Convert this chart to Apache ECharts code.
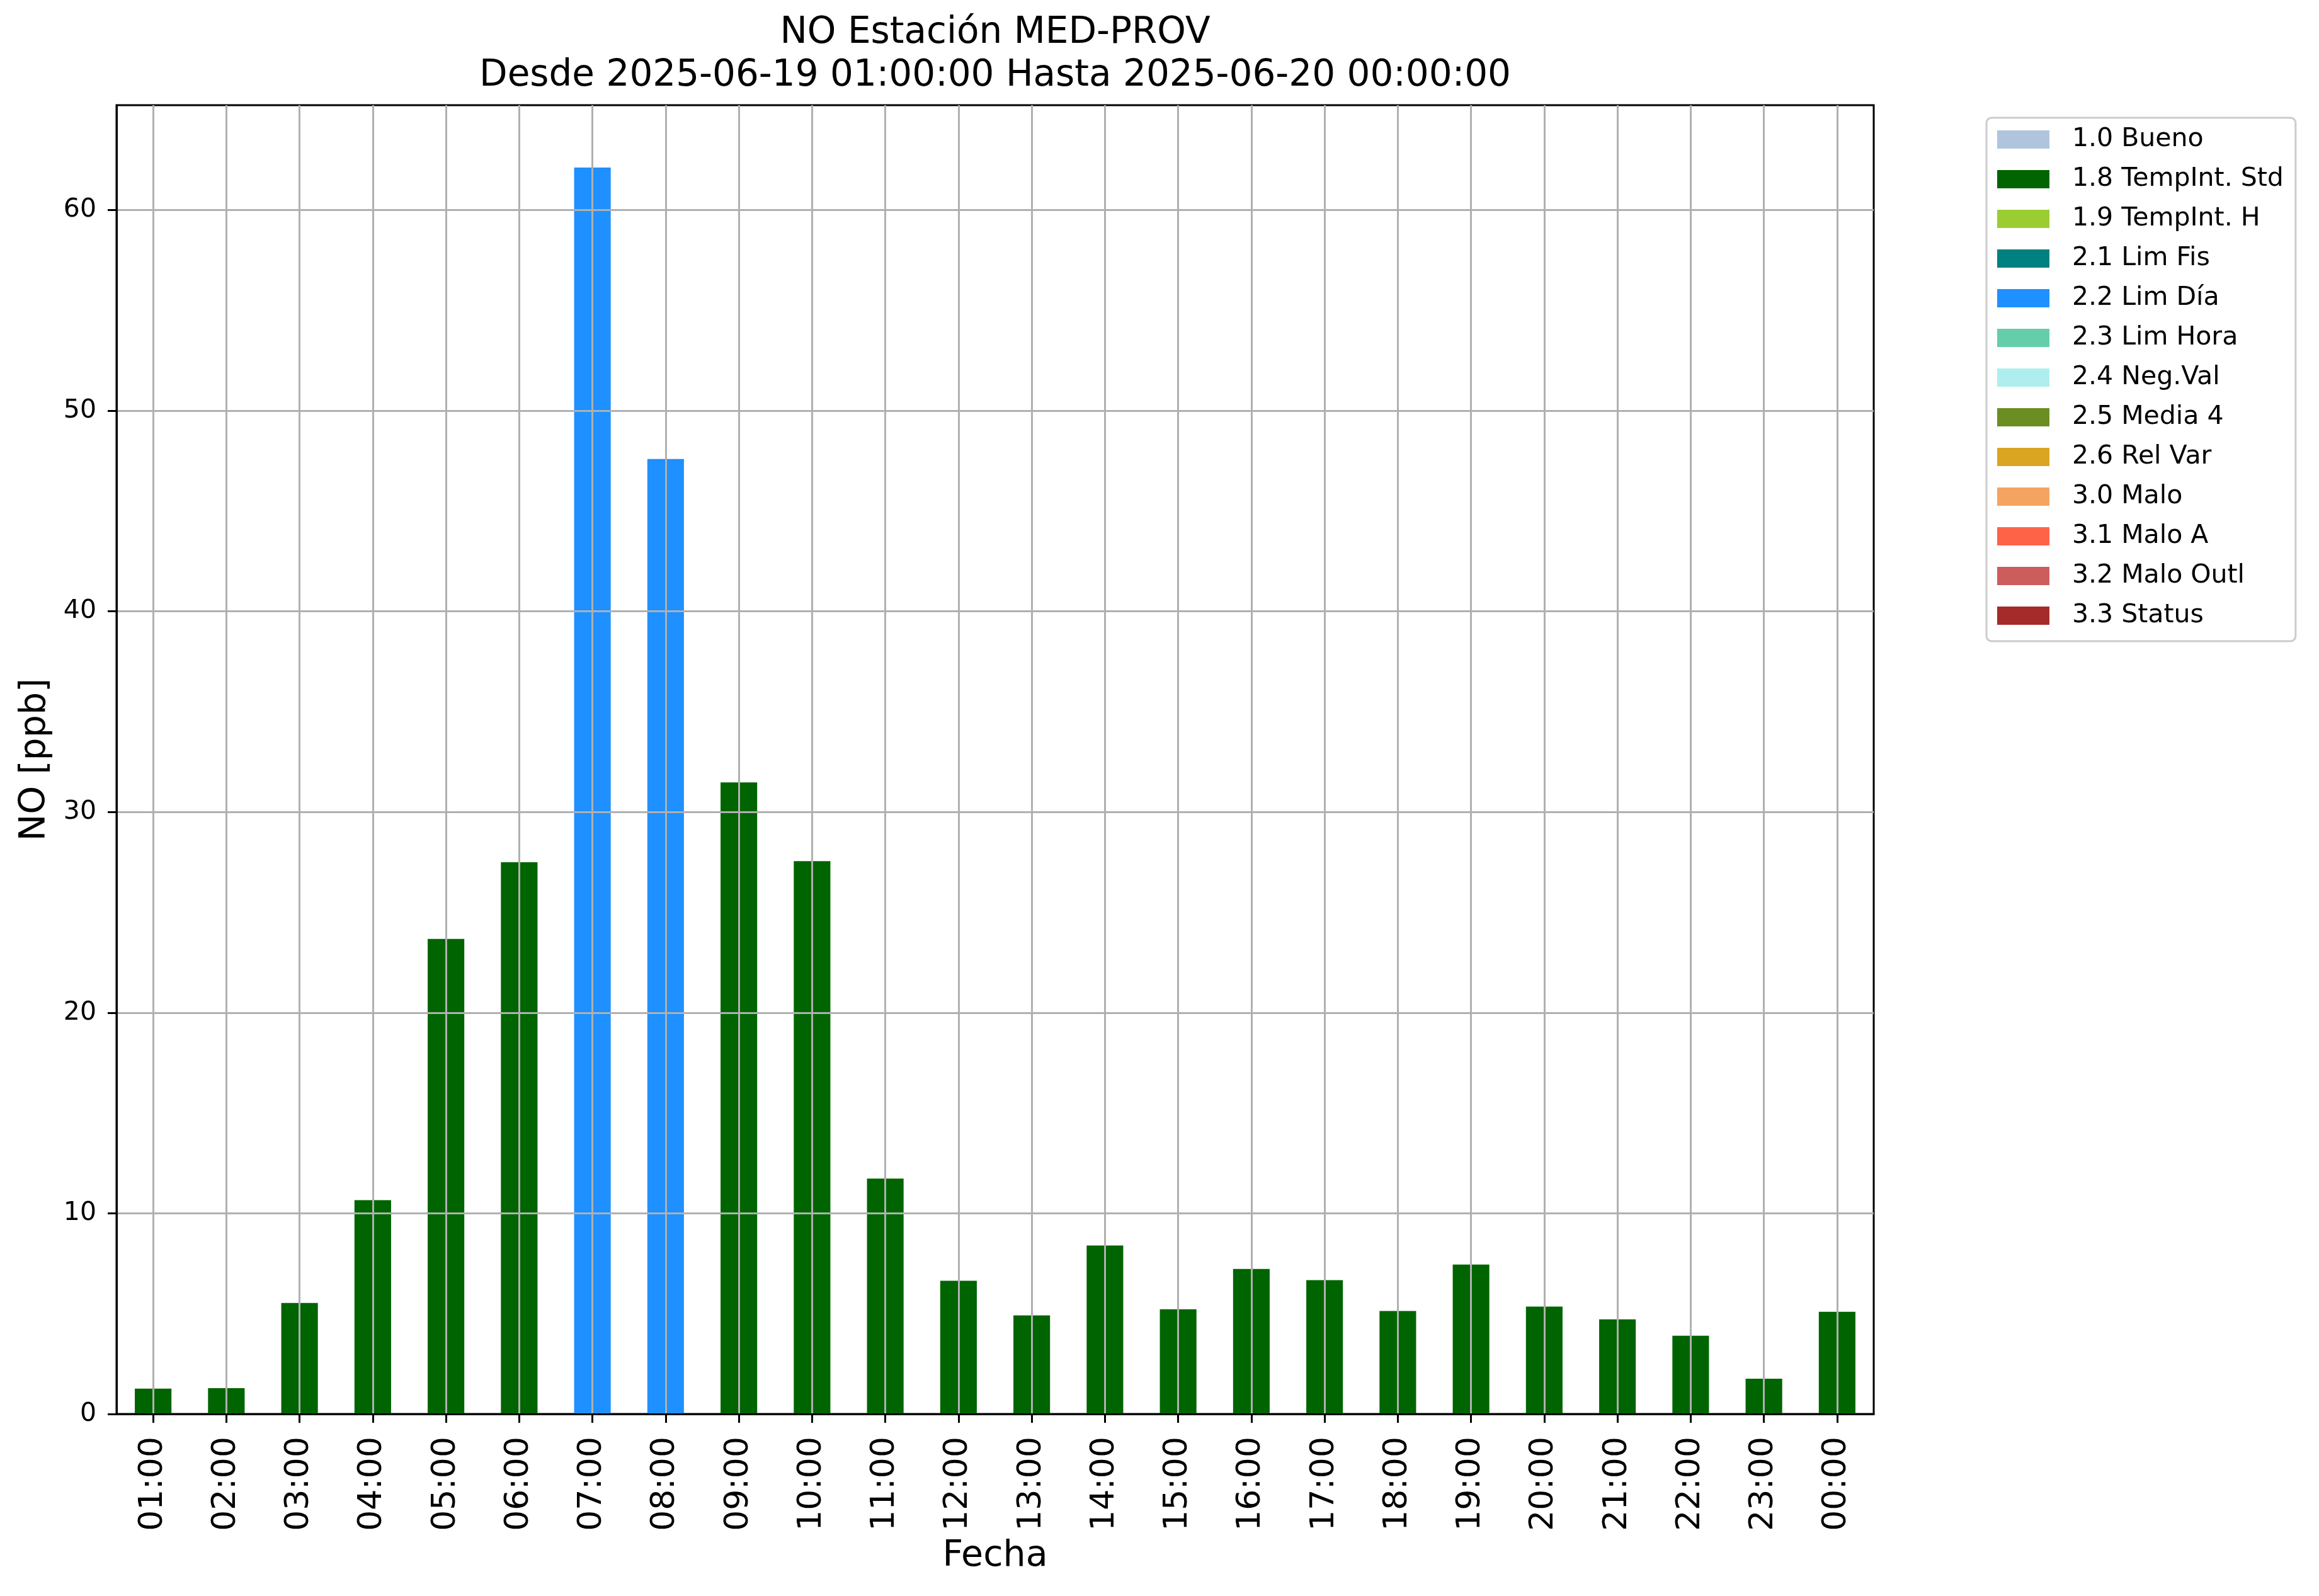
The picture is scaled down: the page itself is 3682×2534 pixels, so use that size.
<!DOCTYPE html>
<html>
<head>
<meta charset="utf-8">
<script src="https://cdn.jsdelivr.net/npm/echarts@6/dist/echarts.min.js"></script>
<style>
html, body { margin: 0; padding: 0; background: #ffffff; }
#chart { width: 3682px; height: 2534px; }
</style>
</head>
<body>
<div id="chart"></div>
<script>
const hours = ['01:00','02:00','03:00','04:00','05:00','06:00','07:00','08:00','09:00','10:00','11:00','12:00',
               '13:00','14:00','15:00','16:00','17:00','18:00','19:00','20:00','21:00','22:00','23:00','00:00'];
const noValues = [1.26, 1.29, 5.53, 10.66, 23.68, 27.5, 62.12, 47.6, 31.48, 27.55, 11.73, 6.64,
                  4.91, 8.40, 5.22, 7.23, 6.67, 5.13, 7.45, 5.35, 4.72, 3.90, 1.76, 5.09];
const hourFlags = ['1.8 TempInt. Std','1.8 TempInt. Std','1.8 TempInt. Std','1.8 TempInt. Std','1.8 TempInt. Std','1.8 TempInt. Std',
                   '2.2 Lim Día','2.2 Lim Día','1.8 TempInt. Std','1.8 TempInt. Std','1.8 TempInt. Std','1.8 TempInt. Std',
                   '1.8 TempInt. Std','1.8 TempInt. Std','1.8 TempInt. Std','1.8 TempInt. Std','1.8 TempInt. Std','1.8 TempInt. Std',
                   '1.8 TempInt. Std','1.8 TempInt. Std','1.8 TempInt. Std','1.8 TempInt. Std','1.8 TempInt. Std','1.8 TempInt. Std'];
const flagNames = ['1.0 Bueno','1.8 TempInt. Std','1.9 TempInt. H','2.1 Lim Fis','2.2 Lim Día','2.3 Lim Hora',
                   '2.4 Neg.Val','2.5 Media 4','2.6 Rel Var','3.0 Malo','3.1 Malo A','3.2 Malo Outl','3.3 Status'];
const flagColors = ['#B0C4DE','#006400','#9ACD32','#008080','#1E90FF','#66CDAA',
                    '#AFEEEE','#6B8E23','#DAA520','#F4A460','#FF6347','#CD5C5C','#A52A2A'];
const yTicks = [0, 10, 20, 30, 40, 50, 60];
const yMax = 65.23;
const titleText = 'NO Estación MED-PROV\nDesde 2025-06-19 01:00:00 Hasta 2025-06-20 00:00:00';

const FONT = 'DejaVu Sans';
const chart = echarts.init(document.getElementById('chart'), null, { renderer: 'canvas' });

const series = flagNames.map((name, i) => ({
  name: name,
  type: 'bar',
  stack: 'total',
  barWidth: '50%',
  itemStyle: { color: flagColors[i] },
  data: noValues.map((v, j) => hourFlags[j] === name ? v : null)
}));

chart.setOption({
  animation: false,
  backgroundColor: '#ffffff',
  title: {
    text: titleText,
    left: 1580,
    top: 19,
    padding: 0,
    textAlign: 'center',
    textStyle: { fontFamily: FONT, fontSize: 58, lineHeight: 68, fontWeight: 'normal', color: '#000' }
  },
  legend: {
    orient: 'vertical',
    left: 3154,
    top: 187,
    icon: 'rect',
    itemWidth: 83,
    itemHeight: 29,
    itemGap: 22,
    padding: [14, 19, 20, 17],
    backgroundColor: '#ffffff',
    borderColor: '#cccccc',
    borderWidth: 3,
    borderRadius: 8,
    selectedMode: false,
    textStyle: { fontFamily: FONT, fontSize: 41, lineHeight: 41, color: '#000', padding: [0, 0, 0, 31] },
    data: flagNames
  },
  grid: {
    left: 185,
    right: 707,
    top: 167,
    bottom: 289,
    show: true,
    borderColor: '#000',
    borderWidth: 3,
    backgroundColor: 'transparent'
  },
  xAxis: {
    type: 'category',
    data: hours,
    z: 5,
    name: 'Fecha',
    nameLocation: 'middle',
    nameGap: 198,
    nameTextStyle: { fontFamily: FONT, fontSize: 57, color: '#000' },
    axisLine: { show: true, lineStyle: { color: '#000', width: 3 } },
    axisTick: { show: true, alignWithLabel: true, length: 14, lineStyle: { color: '#000', width: 3 } },
    axisLabel: { rotate: 90, margin: 36, fontFamily: FONT, fontSize: 52, color: '#000', interval: 0 },
    splitLine: { show: true, alignWithLabel: true, interval: 0, lineStyle: { color: '#b0b0b0', width: 3 } }
  },
  yAxis: {
    type: 'value',
    min: 0,
    max: yMax,
    interval: 10,
    z: 5,
    name: 'NO [ppb]',
    nameLocation: 'middle',
    nameGap: 100,
    nameTextStyle: { fontFamily: FONT, fontSize: 57, color: '#000' },
    axisLine: { show: true, lineStyle: { color: '#000', width: 3 } },
    axisTick: { show: true, length: 14, customValues: yTicks, lineStyle: { color: '#000', width: 3 } },
    axisLabel: { margin: 32, fontFamily: FONT, fontSize: 41, color: '#000', customValues: yTicks },
    splitLine: { show: true, lineStyle: { color: '#b0b0b0', width: 3 } }
  },
  series: series
});
</script>
</body>
</html>
